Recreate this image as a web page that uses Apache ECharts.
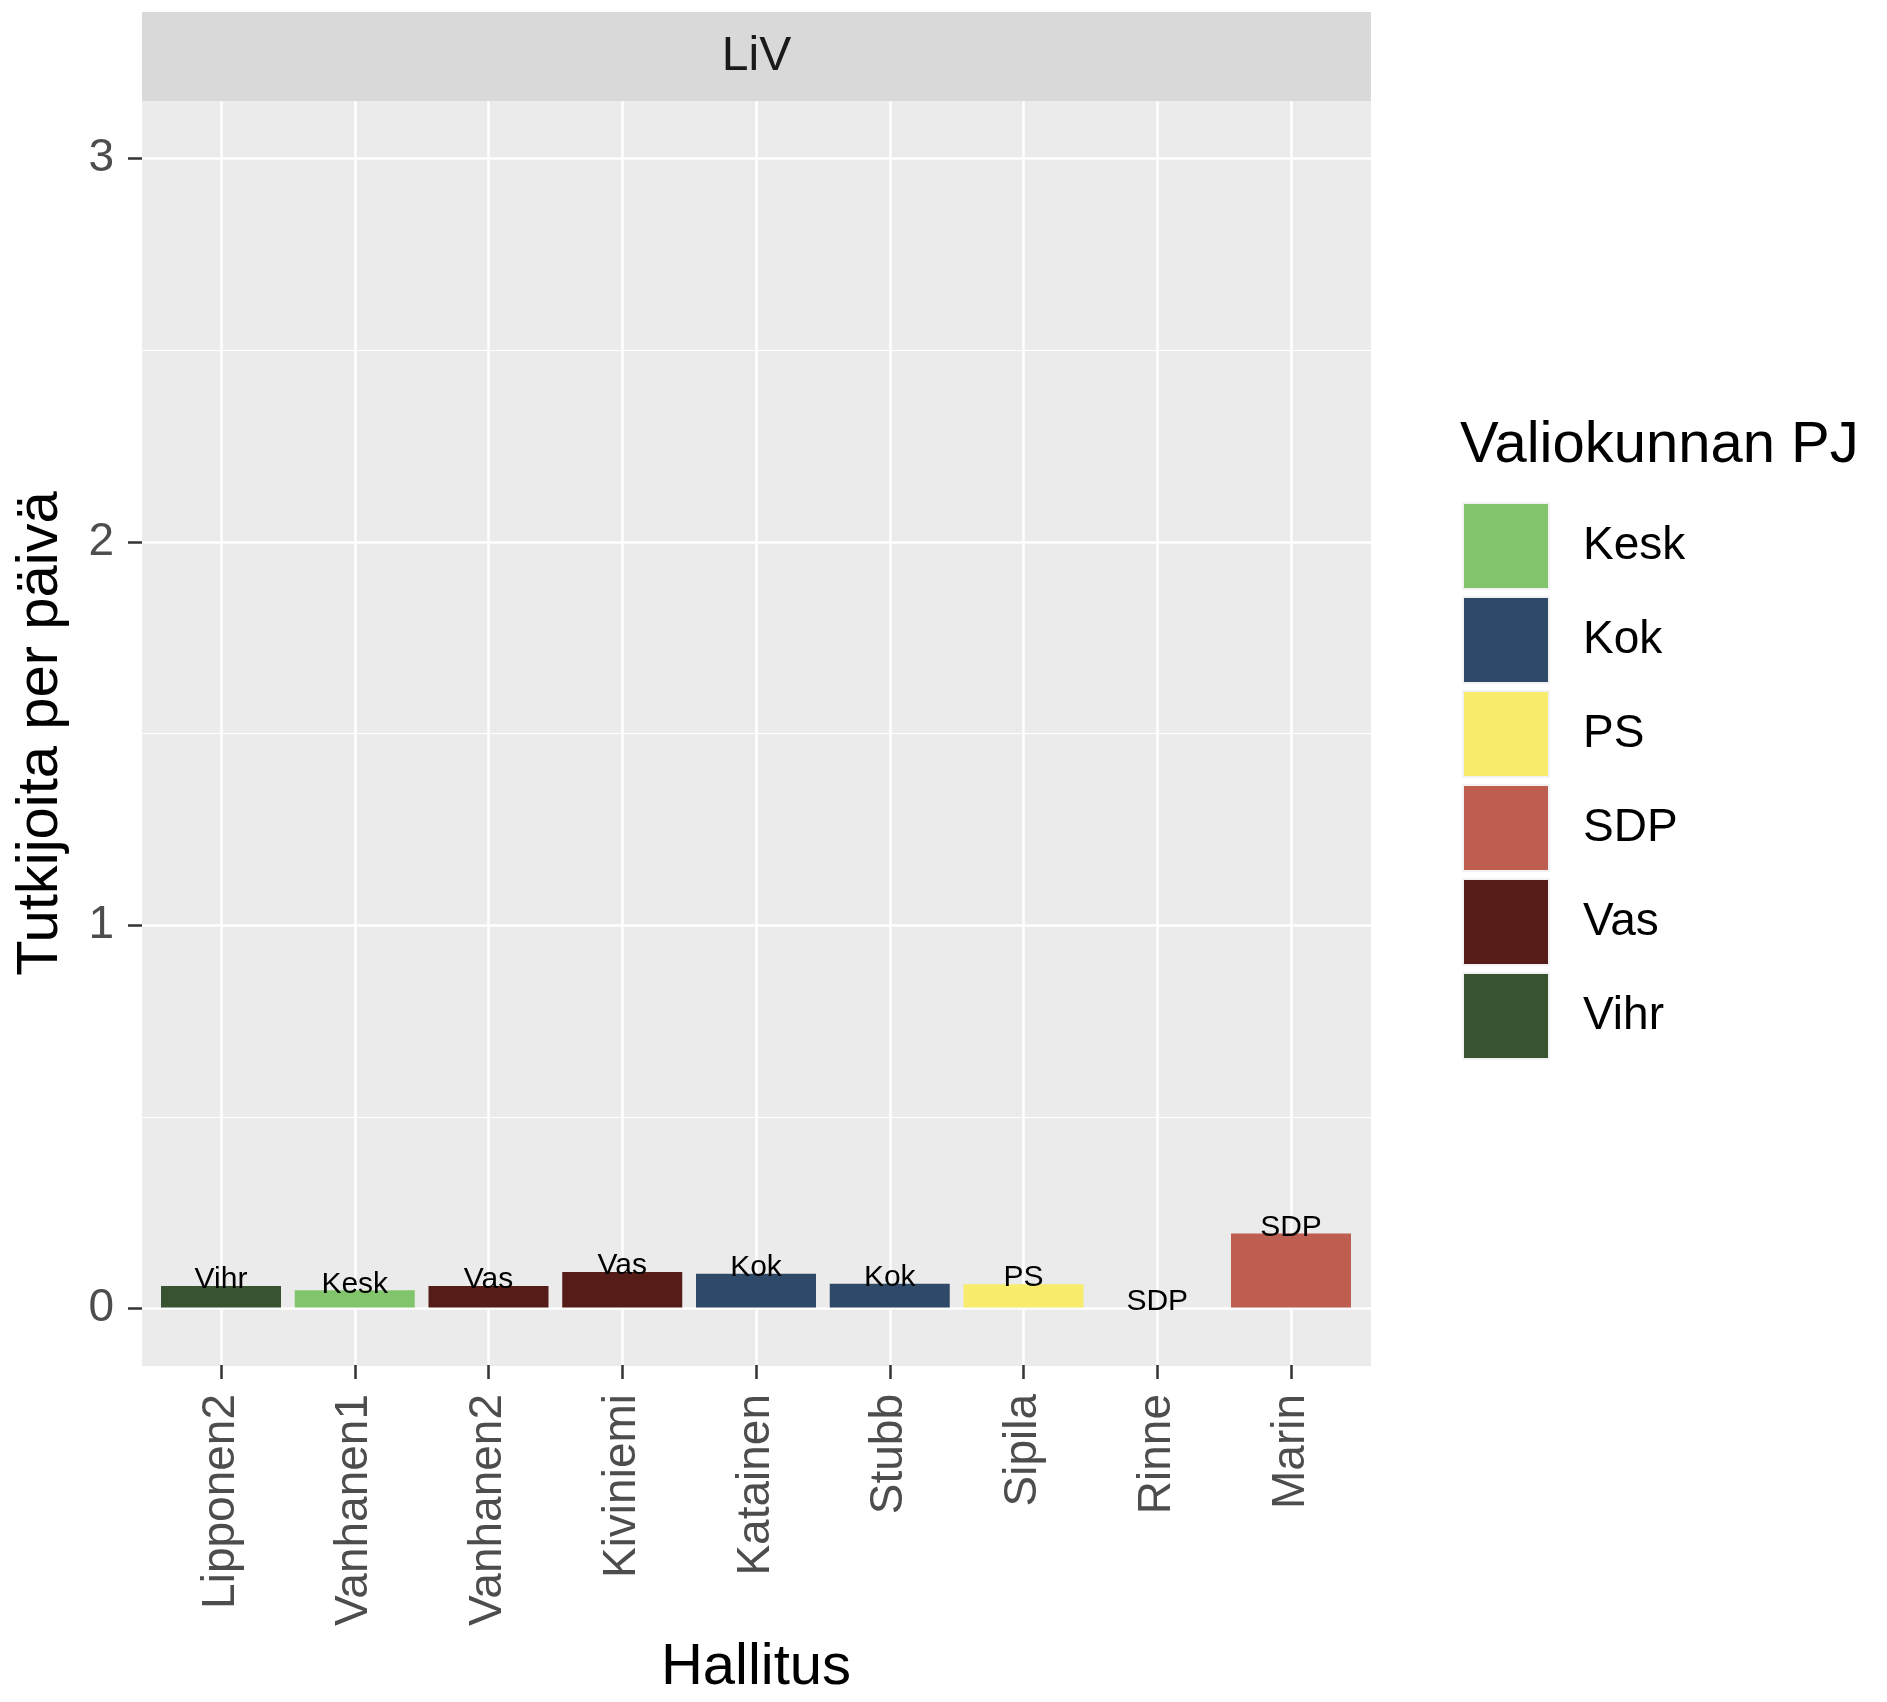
<!DOCTYPE html>
<html>
<head>
<meta charset="utf-8">
<script src="https://cdn.jsdelivr.net/npm/echarts@6/dist/echarts.min.js"></script>
<style>
  body { margin: 0; background: #fff; }
  #chart { width: 1887px; height: 1702px; }
</style>
</head>
<body>
<div id="chart"></div>
<script>
// data
const governments = ["Lipponen2", "Vanhanen1", "Vanhanen2", "Kiviniemi", "Katainen", "Stubb", "Sipila", "Rinne", "Marin"];
const chairParty = ["Vihr", "Kesk", "Vas", "Vas", "Kok", "Kok", "PS", "SDP", "SDP"];
const perDay = [0.056, 0.045, 0.056, 0.093, 0.088, 0.062, 0.061, 0, 0.193];
const parties = ["Kesk", "Kok", "PS", "SDP", "Vas", "Vihr"];
const partyColors = ["#82c46c", "#2e4a68", "#f7ec6b", "#be5e50", "#561c17", "#375330"];
const yTicks = [0, 1, 2, 3];

const FONT = "Liberation Sans, Arial, Helvetica, sans-serif";
const chart = echarts.init(document.getElementById("chart"));

// panel geometry (pixels)
const panelLeft = 142, panelRight = 1371, panelTop = 101, panelBottom = 1366;
const panelW = panelRight - panelLeft;

// one series per party so the legend shows every party
const series = parties.map((p, k) => ({
    name: p,
    type: "bar",
    xAxisIndex: 1,
    yAxisIndex: 1,
    barWidth: 120,
    barGap: "-100%",
    clip: false,
    itemStyle: { color: partyColors[k] },
    label: {
        show: true,
        position: "top",
        distance: -9,
        formatter: "{a}",
        fontFamily: FONT,
        fontSize: 30,
        color: "#000"
    },
    data: perDay.map((v, i) => (chairParty[i] === p ? v : null))
}));

const option = {
    animation: false,
    textStyle: { fontFamily: FONT },
    title: [
        { text: "LiV", left: (panelLeft + panelRight) / 2, top: 33, textAlign: "center", padding: 0,
          textStyle: { fontFamily: FONT, fontSize: 48, fontWeight: "normal", color: "#1a1a1a" } },
        { text: "Valiokunnan PJ", left: 1460, top: 417, padding: 0,
          textStyle: { fontFamily: FONT, fontSize: 58, fontWeight: "normal", color: "#000" } }
    ],
    legend: {
        orient: "vertical",
        left: 1457,
        top: 497,
        itemWidth: 86,
        itemHeight: 86,
        itemGap: 6,
        icon: "rect",
        data: parties,
        itemStyle: { borderColor: "#f2f2f2", borderWidth: 2 },
        textStyle: { fontFamily: FONT, fontSize: 46, color: "#000", padding: [0, 0, 0, 29] }
    },
    grid: [
        { left: panelLeft, top: 158.5, width: panelW, height: 1150 },
        { left: 221, top: panelTop, width: 1070, height: panelBottom - panelTop },
        // panel background
        { left: panelLeft, top: panelTop, width: panelW, height: panelBottom - panelTop,
          show: true, backgroundColor: "#ebebeb", borderWidth: 0 },
        // facet strip
        { left: panelLeft, top: 12, width: panelW, height: panelTop - 12,
          show: true, backgroundColor: "#d9d9d9", borderWidth: 0 }
    ],
    xAxis: [
        { gridIndex: 0, type: "value", show: false },
        {
            gridIndex: 1,
            type: "category",
            data: governments,
            boundaryGap: false,
            axisLine: { show: true, onZero: false, lineStyle: { color: "#ebebeb", width: 1 } },
            axisTick: { show: true, length: 14, lineStyle: { color: "#333", width: 2.5 } },
            axisLabel: { interval: 0, rotate: 90, margin: 29, fontFamily: FONT, fontSize: 46, color: "#4d4d4d" },
            splitLine: { show: true, lineStyle: { color: "#fff", width: 2.5 } },
            name: "Hallitus",
            nameLocation: "middle",
            nameGap: 274,
            nameTextStyle: { fontFamily: FONT, fontSize: 58, color: "#000" }
        },
        { gridIndex: 2, type: "value", show: false },
        { gridIndex: 3, type: "value", show: false }
    ],
    yAxis: [
        {
            gridIndex: 0,
            type: "value",
            min: yTicks[0],
            max: yTicks[yTicks.length - 1],
            interval: 1,
            axisLine: { show: false },
            axisTick: { show: true, length: 14, lineStyle: { color: "#333", width: 2.5 } },
            axisLabel: { margin: 28, fontFamily: FONT, fontSize: 46, color: "#4d4d4d" },
            splitLine: { show: true, lineStyle: { color: "#fff", width: 2.5 } },
            minorTick: { show: false, splitNumber: 2 },
            minorSplitLine: { show: true, lineStyle: { color: "#fff", width: 1.2 } },
            name: "Tutkijoita per päivä",
            nameLocation: "middle",
            nameGap: 72,
            nameTextStyle: { fontFamily: FONT, fontSize: 58, color: "#000" }
        },
        { gridIndex: 1, type: "value", min: -0.15, max: 3.15, show: false, splitLine: { show: false } },
        { gridIndex: 2, type: "value", show: false },
        { gridIndex: 3, type: "value", show: false }
    ],
    series: series
};

chart.setOption(option);
</script>
</body>
</html>
